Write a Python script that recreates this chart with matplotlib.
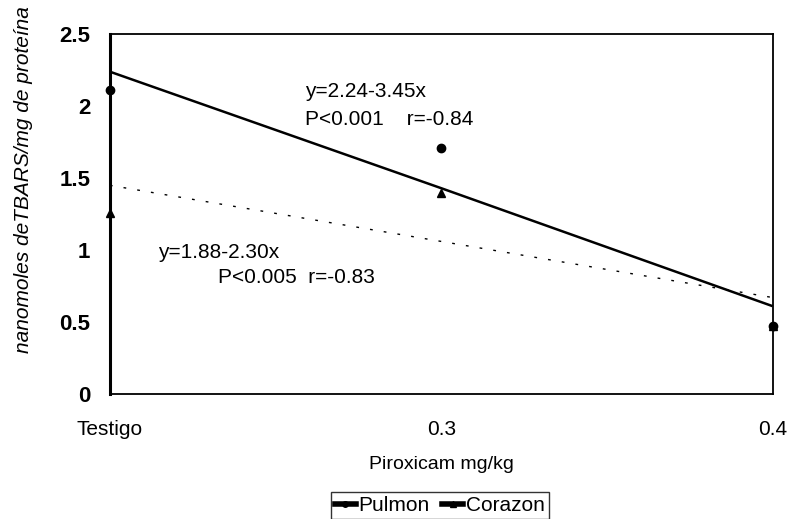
import matplotlib
matplotlib.use("Agg")
import matplotlib.pyplot as plt
from matplotlib.lines import Line2D

plt.rcParams['font.family'] = ['Liberation Sans', 'DejaVu Sans']

categories = ["Testigo", "0.3", "0.4"]
pulmon = [2.11, 1.71, 0.47]
corazon = [1.26, 1.40, 0.47]
pulmon_fit = [2.24, 1.43, 0.61]
corazon_fit = [1.45, 1.06, 0.67]
yticks = [0, 0.5, 1, 1.5, 2, 2.5]

fig = plt.figure(figsize=(7.9, 5.19), dpi=100)
ax = fig.add_axes([0.139, 0.241, 0.839, 0.693])
x = list(range(len(categories)))

ax.plot(x, pulmon_fit, color='black', lw=1.8, solid_capstyle='butt')
ax.plot(x, corazon_fit, color='black', lw=1.0, linestyle=(0, (2, 8)))
ax.plot(x, pulmon, linestyle='none', marker='o', color='black', ms=6, clip_on=False)
ax.plot(x, corazon, linestyle='none', marker='^', color='black', ms=6, clip_on=False)

ax.set_xlim(0, 2)
ax.set_ylim(0, 2.5)
ax.set_xticks(x)
ax.set_xticklabels(categories, fontsize=15)
ax.set_yticks(yticks)
ax.set_yticklabels([f"{v:g}" for v in yticks], fontsize=16, fontweight='bold')
ax.tick_params(axis='x', length=0, pad=19)
ax.tick_params(axis='y', length=0, pad=14)
for s in ax.spines.values():
    s.set_linewidth(1.3)
ax.spines['left'].set_linewidth(2.2)

ax.set_xlabel("Piroxicam mg/kg", fontsize=14, labelpad=12)
ax.set_ylabel("nanomoles deTBARS/mg de proteína", fontsize=15, style='italic')
ax.yaxis.set_label_coords(-0.116, 0.595)

ax.text(0.590, 2.10, "y=2.24-3.45x", fontsize=15, ha='left', va='center')
ax.text(0.590, 1.91, "P<0.001    r=-0.84", fontsize=15, ha='left', va='center')
ax.text(0.145, 0.98, "y=1.88-2.30x", fontsize=15, ha='left', va='center')
ax.text(0.325, 0.81, "P<0.005  r=-0.83", fontsize=15, ha='left', va='center')

handles = [Line2D([0], [0], color='black', lw=4, marker='o', ms=4),
           Line2D([0], [0], color='black', lw=4, marker='^', ms=4)]
leg = fig.legend(handles, ["Pulmon", "Corazon"], loc='upper center',
                 bbox_to_anchor=(0.557, 0.072), ncol=2, frameon=True,
                 fontsize=15, handlelength=1.0, handletextpad=0.15,
                 columnspacing=0.6, borderpad=0.2, fancybox=False)
leg.get_frame().set_edgecolor('black')
leg.get_frame().set_linewidth(1.0)

fig.savefig("out.png", dpi=100)
